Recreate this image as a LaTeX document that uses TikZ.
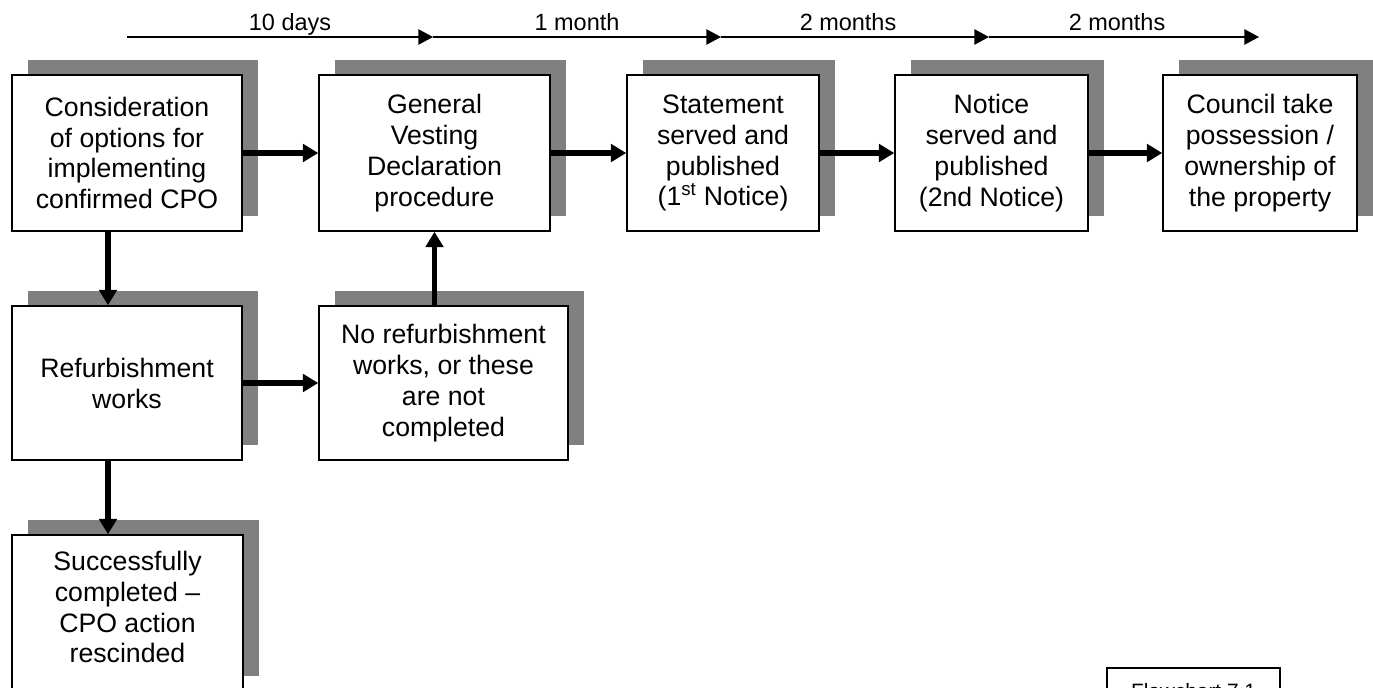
\documentclass[tikz,border=0pt]{standalone}
\usepackage{fontspec}
\setmainfont{Liberation Sans}
\usetikzlibrary{arrows.meta,shadows}
\definecolor{shadegrey}{HTML}{808080}

\begin{document}
\begin{tikzpicture}[x=0.75pt,y=-0.75pt,
  boxfont/.style={font=\fontsize{20}{23.2}\selectfont, align=center, inner sep=0pt},
  box/.style={boxfont, draw=black, line width=1.1pt, fill=white,
    drop shadow={fill=shadegrey, opacity=1, shadow xshift=12pt, shadow yshift=11.6pt}},
  rowone/.style={box, minimum height=117pt},
  flow/.style={line width=4.2pt, -{Triangle[length=11.5pt,width=13pt]}},
  tick/.style={line width=1.1pt, -{Triangle[length=11pt,width=11.5pt]}},
  span/.style={font=\fontsize{17.6}{20}\selectfont, anchor=base, inner sep=0pt}
]
\useasboundingbox (0,0) rectangle (1373,688);
\clip (0,0) rectangle (1373,688);

% time scale along the top
\coordinate (t0) at (127,37);
\coordinate (t1) at (433,37);
\coordinate (t2) at (721,37);
\coordinate (t3) at (989,37);
\coordinate (t4) at (1259,37);
\draw[tick] (t0) -- (t1);
\draw[tick] (t1) -- (t2);
\draw[tick] (t2) -- (t3);
\draw[tick] (t3) -- (t4);
\node[span] (s1) at (290,31) {10 days};
\node[span] (s2) at (577,31) {1 month};
\node[span] (s3) at (848,31) {2 months};
\node[span] (s4) at (1117,31) {2 months};

% main sequence
\node[rowone, minimum width=172.5pt] (b1) at (127,153)
  {Consideration\\of options for\\implementing\\confirmed CPO};
\node[rowone, minimum width=173.25pt] (b2) at (434.5,153)
  {General\\Vesting\\Declaration\\procedure};
\node[rowone, minimum width=144pt] (b3) at (723,153)
  {Statement\\served and\\published\\(1\textsuperscript{st} Notice)};
\node[rowone, minimum width=144.75pt] (b4) at (991.5,153)
  {Notice\\served and\\published\\(2nd Notice)};
\node[rowone, minimum width=145.5pt] (b5) at (1260,153)
  {Council take\\possession /\\ownership of\\the property};

% refurbishment branch
\node[box, minimum width=172.5pt, minimum height=115.5pt] (ref) at (127,383)
  {Refurbishment\\works};
\node[box, minimum width=186.75pt, minimum height=115.5pt] (noref) at (443.5,383)
  {No refurbishment\\works, or these\\are not\\completed};
\node[box, minimum width=173.25pt, minimum height=117pt] (done) at (127.5,613) {};
\node[boxfont] (donetext) at (127.5,607)
  {Successfully\\completed \textendash\\CPO action\\rescinded};

\node[draw, line width=1.1pt, minimum width=129.75pt, minimum height=34pt, inner sep=0pt,
  font=\fontsize{15.6}{18}\selectfont] (fc) at (1193.5,690.6) {Flowchart 7.1};

% connectors
\coordinate (down) at (108,0);
\draw[flow] (b1) -- (b2);
\draw[flow] (b2) -- (b3);
\draw[flow] (b3) -- (b4);
\draw[flow] (b4) -- (b5);
\draw[flow] (b1.south -| down) -- (ref.north -| down);
\draw[flow] (ref) -- (noref);
\draw[flow] (noref.north -| b2) -- (b2.south);
\draw[flow] (ref.south -| down) -- (done.north -| down);
\end{tikzpicture}
\end{document}
